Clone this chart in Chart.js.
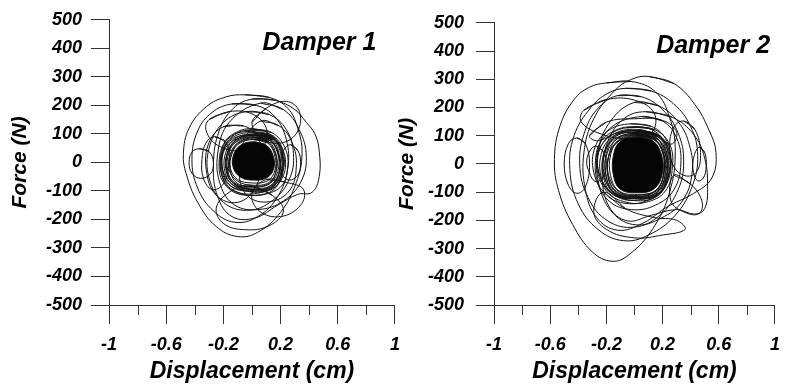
<!DOCTYPE html>
<html>
<head>
<meta charset="utf-8">
<script src="https://cdn.jsdelivr.net/npm/chart.js@4.4.1/dist/chart.umd.min.js"></script>
<style>
  body { margin: 0; background: #fff; }
  #wrap { position: relative; width: 790px; height: 390px; background: #fff; }
  canvas { position: absolute; top: 0; }
</style>
</head>
<body>
<div id="wrap">
  <canvas id="damper1" width="410" height="390" style="left:0"></canvas>
  <canvas id="damper2" width="400" height="390" style="left:390px"></canvas>
</div>
<script>
// axis ticks
const xTickValues = [-1, -0.8, -0.6, -0.4, -0.2, 0, 0.2, 0.4, 0.6, 0.8, 1];
const xTickLabels = ['-1', '', '-0.6', '', '-0.2', '', '0.2', '', '0.6', '', '1'];
const yTickValues = [-500, -400, -300, -200, -100, 0, 100, 200, 300, 400, 500];

// hysteresis loops, [displacement cm, force N]
const damper1Loops = [
  [[-0.05,237],[0.12,228],[0.25,190],[0.32,120],[0.35,30],[0.31,-70],[0.2,-175],[0.04,-245],[-0.1,-260],[-0.25,-225],[-0.38,-140],[-0.46,-40],[-0.48,30],[-0.44,120],[-0.32,195],[-0.18,230]],
  [[0.0,222],[0.16,218],[0.3,185],[0.38,140],[0.44,100],[0.47,40],[0.47,-50],[0.42,-105],[0.32,-112],[0.18,-150],[0.02,-195],[-0.14,-190],[-0.24,-120],[-0.27,-10],[-0.23,110],[-0.13,190]],
  [[-0.14,205],[0.03,200],[0.16,160],[0.24,80],[0.25,-20],[0.18,-120],[0.04,-190],[-0.12,-210],[-0.27,-170],[-0.38,-90],[-0.42,10],[-0.38,110],[-0.28,175]],
  [[0.06,208],[0.22,185],[0.33,115],[0.38,20],[0.34,-70],[0.22,-135],[0.05,-165],[-0.12,-150],[-0.22,-80],[-0.24,30],[-0.16,140]],
  [[-0.04,178],[0.12,168],[0.24,115],[0.29,30],[0.26,-60],[0.14,-135],[-0.03,-168],[-0.2,-140],[-0.3,-55],[-0.3,50],[-0.2,140]],
  [[-0.37,48],[-0.3,38],[-0.27,0],[-0.29,-40],[-0.36,-56],[-0.42,-38],[-0.44,0],[-0.42,36]],
  [[0.27,62],[0.32,42],[0.34,0],[0.32,-45],[0.26,-62],[0.21,-42],[0.2,0],[0.22,42]],
  [[-0.2,125],[-0.06,128],[0.04,90],[0.07,0],[0.02,-90],[-0.1,-140],[-0.25,-115],[-0.32,-25],[-0.3,70]],
  [[0.06,145],[0.19,128],[0.28,70],[0.31,-15],[0.26,-100],[0.12,-138],[-0.03,-118],[-0.09,-40],[-0.06,70]],
  [[-0.02,-80],[0.14,-115],[0.22,-170],[0.12,-222],[-0.05,-236],[-0.2,-214],[-0.25,-160],[-0.16,-105]],
  [[0.0,140],[0.1,190],[0.24,214],[0.33,180],[0.32,110],[0.22,70],[0.08,80]],
  [[-0.3,150],[-0.16,178],[0.0,170],[0.1,120],[0.08,60],[-0.08,40],[-0.24,60],[-0.32,110]],
  [[0.1,-60],[0.24,-70],[0.36,-95],[0.34,-150],[0.2,-190],[0.05,-170],[0.0,-110]],
  [[-0.26,90],[-0.18,70],[-0.16,0],[-0.2,-75],[-0.28,-95],[-0.34,-55],[-0.35,10],[-0.32,70]],
  [[0.0,118],[0.14,104],[0.23,52],[0.25,-20],[0.2,-86],[0.06,-113],[-0.09,-108],[-0.2,-70],[-0.23,0],[-0.19,72],[-0.1,108]],
  [[-0.03,108],[0.11,98],[0.2,44],[0.21,-40],[0.14,-100],[-0.02,-116],[-0.16,-92],[-0.22,-20],[-0.2,58],[-0.13,96]],
  [[0.03,96],[0.16,78],[0.23,22],[0.21,-56],[0.11,-97],[-0.04,-100],[-0.17,-62],[-0.21,8],[-0.15,70]],
  [[-0.05,112],[0.08,110],[0.18,70],[0.22,0],[0.17,-75],[0.04,-108],[-0.12,-100],[-0.21,-45],[-0.21,35],[-0.14,90]]
];
// tight cycles packed around the static position
const damper1Rings = [
  [[0.01,80],[0.11,68],[0.16,22],[0.16,-28],[0.11,-64],[0.0,-72],[-0.1,-60],[-0.15,-22],[-0.14,30],[-0.09,66]],
  [[0.02,86],[0.12,72],[0.17,25],[0.17,-30],[0.12,-70],[0.01,-80],[-0.1,-66],[-0.16,-25],[-0.15,32],[-0.09,72]],
  [[0.0,90],[0.12,78],[0.18,30],[0.18,-32],[0.12,-76],[0.0,-86],[-0.12,-72],[-0.17,-28],[-0.16,36],[-0.1,78]],
  [[0.02,94],[0.14,80],[0.19,28],[0.19,-36],[0.13,-82],[0.01,-90],[-0.12,-76],[-0.18,-30],[-0.17,38],[-0.1,82]],
  [[0.0,98],[0.14,86],[0.2,32],[0.2,-40],[0.14,-86],[0.0,-94],[-0.13,-80],[-0.19,-32],[-0.18,40],[-0.11,86]],
  [[0.04,100],[0.16,84],[0.21,30],[0.2,-40],[0.13,-88],[0.02,-96],[-0.1,-84],[-0.17,-40],[-0.17,36],[-0.09,86]],
  [[-0.02,96],[0.11,88],[0.18,36],[0.19,-38],[0.12,-90],[-0.02,-98],[-0.15,-82],[-0.21,-30],[-0.2,42],[-0.13,84]],
  [[0.01,104],[0.15,92],[0.22,34],[0.21,-44],[0.14,-94],[0.0,-102],[-0.14,-86],[-0.2,-36],[-0.2,44],[-0.12,92]],
  [[0.03,88],[0.13,76],[0.19,20],[0.18,-48],[0.1,-90],[-0.03,-92],[-0.14,-70],[-0.18,-20],[-0.16,44],[-0.08,80]],
  [[-0.01,82],[0.1,74],[0.16,34],[0.17,-20],[0.13,-70],[0.02,-84],[-0.1,-74],[-0.15,-34],[-0.15,24],[-0.1,66]]
];
const damper1Core = [[0.01,72],[0.1,60],[0.15,20],[0.15,-25],[0.1,-55],[0.01,-62],[-0.08,-52],[-0.13,-20],[-0.13,25],[-0.08,60]];

const damper2Loops = [
  [[0.1,310],[0.28,285],[0.43,210],[0.53,120],[0.58,40],[0.55,-50],[0.42,-105],[0.24,-150],[0.06,-210],[-0.12,-235],[-0.27,-190],[-0.35,-90],[-0.36,40],[-0.29,160],[-0.14,260],[-0.02,300]],
  [[-0.2,287],[-0.02,292],[0.15,255],[0.25,165],[0.29,45],[0.25,-100],[0.13,-230],[-0.04,-322],[-0.16,-345],[-0.3,-312],[-0.44,-215],[-0.54,-95],[-0.57,15],[-0.53,135],[-0.43,228],[-0.32,272]],
  [[-0.06,268],[0.12,258],[0.28,212],[0.4,132],[0.45,30],[0.41,-80],[0.29,-182],[0.1,-252],[-0.08,-272],[-0.26,-232],[-0.4,-142],[-0.46,-20],[-0.43,100],[-0.31,200],[-0.19,250]],
  [[0.08,185],[0.27,165],[0.42,105],[0.5,20],[0.52,-80],[0.5,-158],[0.43,-178],[0.3,-162],[0.12,-182],[-0.05,-202],[-0.18,-152],[-0.23,-40],[-0.19,80],[-0.07,162]],
  [[-0.12,242],[0.05,238],[0.2,192],[0.31,110],[0.35,10],[0.31,-92],[0.18,-182],[0.0,-224],[-0.19,-202],[-0.33,-120],[-0.39,0],[-0.35,120],[-0.25,202]],
  [[0.0,218],[0.17,206],[0.31,150],[0.39,68],[0.41,-32],[0.34,-132],[0.19,-192],[0.01,-216],[-0.15,-176],[-0.25,-80],[-0.26,42],[-0.17,152]],
  [[-0.41,92],[-0.35,72],[-0.32,0],[-0.35,-82],[-0.41,-104],[-0.47,-76],[-0.5,0],[-0.47,72]],
  [[0.35,152],[0.43,122],[0.47,40],[0.44,-30],[0.36,-42],[0.28,-10],[0.25,60],[0.28,130]],
  [[-0.32,100],[-0.2,148],[0.0,160],[0.2,154],[0.3,112],[0.26,70],[0.1,112],[-0.1,114],[-0.26,82]],
  [[-0.22,-100],[-0.06,-160],[0.14,-190],[0.3,-200],[0.36,-232],[0.2,-252],[0.0,-262],[-0.2,-232],[-0.29,-170]],
  [[0.05,168],[0.2,152],[0.3,92],[0.33,0],[0.28,-92],[0.15,-146],[-0.02,-162],[-0.18,-132],[-0.27,-52],[-0.26,50],[-0.16,132]],
  [[-0.27,62],[-0.22,42],[-0.2,0],[-0.23,-52],[-0.28,-62],[-0.32,-32],[-0.34,10],[-0.31,52]],
  [[0.28,-40],[0.4,-72],[0.48,-132],[0.46,-176],[0.36,-172],[0.26,-132]],
  [[-0.36,190],[-0.2,228],[0.0,226],[0.14,180],[0.12,110],[-0.06,90],[-0.26,110],[-0.38,150]],
  [[0.46,60],[0.5,40],[0.51,-10],[0.49,-50],[0.45,-60],[0.42,-30],[0.42,20]],
  [[0.0,132],[0.15,120],[0.25,70],[0.27,-10],[0.22,-96],[0.08,-136],[-0.08,-133],[-0.2,-96],[-0.27,-10],[-0.25,70],[-0.14,118]],
  [[-0.03,142],[0.12,133],[0.22,90],[0.26,10],[0.22,-80],[0.1,-128],[-0.06,-140],[-0.2,-110],[-0.29,-30],[-0.28,60],[-0.18,120]],
  [[0.03,122],[0.17,100],[0.25,40],[0.24,-50],[0.16,-115],[0.0,-130],[-0.15,-105],[-0.25,-40],[-0.25,50],[-0.14,108]],
  [[-0.06,128],[0.1,126],[0.21,80],[0.24,0],[0.2,-90],[0.05,-126],[-0.12,-118],[-0.23,-60],[-0.26,30],[-0.18,100]]
];
const damper2Rings = [
  [[0.02,102],[0.14,88],[0.2,38],[0.21,-32],[0.15,-94],[0.02,-108],[-0.11,-96],[-0.17,-42],[-0.17,32],[-0.11,86]],
  [[0.01,108],[0.15,94],[0.22,40],[0.22,-36],[0.16,-100],[0.01,-114],[-0.13,-100],[-0.19,-44],[-0.18,36],[-0.12,92]],
  [[0.03,112],[0.17,96],[0.23,38],[0.23,-40],[0.16,-104],[0.02,-118],[-0.14,-104],[-0.2,-46],[-0.2,38],[-0.13,98]],
  [[0.0,116],[0.16,102],[0.24,44],[0.24,-42],[0.17,-108],[0.0,-122],[-0.15,-108],[-0.22,-48],[-0.21,42],[-0.14,102]],
  [[0.04,118],[0.18,100],[0.25,40],[0.24,-46],[0.16,-112],[0.02,-124],[-0.13,-110],[-0.21,-50],[-0.21,40],[-0.12,104]],
  [[-0.02,112],[0.13,104],[0.21,46],[0.23,-38],[0.17,-104],[0.0,-120],[-0.17,-102],[-0.24,-42],[-0.23,46],[-0.15,98]],
  [[0.02,98],[0.13,88],[0.2,46],[0.22,-20],[0.18,-86],[0.05,-110],[-0.09,-104],[-0.17,-60],[-0.19,10],[-0.13,76]],
  [[0.0,104],[0.12,96],[0.2,50],[0.21,-28],[0.16,-92],[0.02,-116],[-0.13,-104],[-0.2,-50],[-0.2,28],[-0.13,86]],
  [[0.05,100],[0.17,86],[0.23,30],[0.22,-52],[0.13,-110],[-0.01,-116],[-0.14,-92],[-0.19,-30],[-0.17,44],[-0.08,90]],
  [[-0.04,106],[0.1,100],[0.19,56],[0.21,-14],[0.17,-84],[0.04,-118],[-0.11,-112],[-0.2,-66],[-0.23,8],[-0.17,76]]
];
const damper2Core = [[0.02,95],[0.13,82],[0.19,35],[0.2,-30],[0.14,-88],[0.02,-102],[-0.1,-90],[-0.15,-40],[-0.15,30],[-0.1,80]];

const FONT = 'Arial, "Liberation Sans", sans-serif';
const LINE = '#111';

// repeat the first two points so the spline closes without a corner
function closeLoop(loop) {
  return loop.concat([loop[0], loop[1]]).map(p => ({ x: p[0], y: p[1] }));
}

function buildDatasets(loops, rings, core) {
  const sets = [{
    data: closeLoop(core), fill: 'shape', backgroundColor: '#050505', borderColor: LINE
  }];
  rings.concat(loops).forEach(l => sets.push({ data: closeLoop(l), fill: false, borderColor: LINE }));
  return sets;
}

// short minor ticks on the x axis + the panel caption
const extras = {
  id: 'extras',
  afterDraw(chart, args, opts) {
    const { ctx, scales: { x, y } } = chart;
    ctx.save();
    ctx.strokeStyle = '#333';
    ctx.lineWidth = 1;
    x.ticks.forEach((t, i) => {
      if (xTickLabels[i]) return;
      const px = Math.round(x.getPixelForValue(t.value)) + 0.5;
      ctx.beginPath();
      ctx.moveTo(px, x.top);
      ctx.lineTo(px, x.top + 10);
      ctx.stroke();
    });
    ctx.font = 'italic bold 25px ' + FONT;
    ctx.fillStyle = '#000';
    ctx.textAlign = 'right';
    ctx.textBaseline = 'alphabetic';
    ctx.fillText(opts.text, x.getPixelForValue(opts.x), y.getPixelForValue(opts.y));
    ctx.restore();
  }
};

function makeChart(id, loops, rings, core, cfg) {
  const tickFont = { family: FONT, size: 18, weight: 'bold', style: 'italic' };
  const xTitleFont = { family: FONT, size: 23, weight: 'bold', style: 'italic' };
  const yTitleFont = { family: FONT, size: 21, weight: 'bold', style: 'italic' };
  return new Chart(document.getElementById(id), {
    type: 'line',
    data: { datasets: buildDatasets(loops, rings, core) },
    plugins: [extras],
    options: {
      responsive: false,
      animation: false,
      devicePixelRatio: 1,
      layout: { padding: { top: 16, right: cfg.padRight, bottom: 0, left: 0 } },
      elements: {
        point: { radius: 0, hoverRadius: 0 },
        line: { borderWidth: 1, tension: 0.4 }
      },
      plugins: {
        legend: { display: false },
        tooltip: { enabled: false },
        extras: { text: cfg.caption, x: cfg.captionX, y: 394 }
      },
      scales: {
        x: {
          type: 'linear', min: -1, max: 1,
          afterBuildTicks: s => { s.ticks = xTickValues.map(v => ({ value: v })); },
          ticks: { color: '#000', font: tickFont, padding: 10, maxRotation: 0, autoSkip: false,
                   callback: (v, i) => xTickLabels[i] },
          grid: { drawOnChartArea: false, tickLength: 19,
                  tickColor: c => xTickLabels[c.index] ? '#333' : 'rgba(0,0,0,0)' },
          border: { color: '#333', width: 1 },
          title: { display: true, text: 'Displacement (cm)', color: '#000', font: xTitleFont,
                   padding: { top: 0, bottom: 5 } },
          afterFit: s => { s.height = 85; }
        },
        y: {
          type: 'linear', min: -500, max: 500,
          afterBuildTicks: s => { s.ticks = yTickValues.map(v => ({ value: v })); },
          ticks: { color: '#000', font: tickFont, padding: cfg.labelPad, autoSkip: false,
                   callback: v => String(v) },
          grid: { drawOnChartArea: false, tickLength: 18, tickColor: '#333' },
          border: { color: '#333', width: 1 },
          title: { display: true, text: 'Force (N)', color: '#000', font: yTitleFont,
                   padding: { top: cfg.titlePad, bottom: 0 } },
          afterFit: s => { s.width = cfg.yWidth; }
        }
      }
    }
  });
}

makeChart('damper1', damper1Loops, damper1Rings, damper1Core,
  { yWidth: 109, padRight: 12, labelPad: 9, titlePad: 8, caption: 'Damper 1', captionX: 0.87 });
makeChart('damper2', damper2Loops, damper2Rings, damper2Core,
  { yWidth: 104, padRight: 8, labelPad: 12, titlePad: 5, caption: 'Damper 2', captionX: 0.965 });
</script>
</body>
</html>
